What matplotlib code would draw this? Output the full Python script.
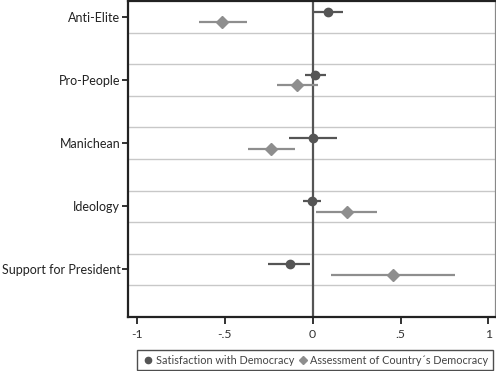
import numpy as np
import matplotlib
matplotlib.use("Agg")
import matplotlib.pyplot as plt
from matplotlib.lines import Line2D

plt.rcParams['font.family'] = ['Lato', 'DejaVu Sans']

# ---------------------------------------------------------------------------
# data
# ---------------------------------------------------------------------------
categories = ["Anti-Elite", "Pro-People", "Manichean", "Ideology", "Support for President"]

sat_est = [0.089, 0.015, 0.000, -0.006, -0.131]
sat_lo = [0.003, -0.044, -0.135, -0.054, -0.253]
sat_hi = [0.171, 0.076, 0.138, 0.045, -0.014]

assess_est = [-0.513, -0.088, -0.236, 0.193, 0.459]
assess_lo = [-0.648, -0.203, -0.368, 0.019, 0.106]
assess_hi = [-0.374, 0.028, -0.103, 0.364, 0.809]

xticks = [-1, -0.5, 0, 0.5, 1]
xticklabels = ["-1", "-.5", "0", ".5", "1"]

dark = "#555555"
light = "#8e8e8e"

fig = plt.figure(figsize=(4.96, 3.71), dpi=100)
ax = fig.add_axes([0.258, 0.146, 0.741, 0.851])

pos = np.arange(1, len(categories) + 1)

# grid lines between / around categories
for g in np.arange(1.25, len(categories) + 0.5, 0.5):
    ax.axhline(g, color="#c8c8c8", lw=1.0, zorder=0)

ax.axvline(0, color=dark, lw=1.6, zorder=1)

sat_est = np.array(sat_est)
assess_est = np.array(assess_est)
ax.errorbar(sat_est, pos - 0.085,
            xerr=[sat_est - np.array(sat_lo), np.array(sat_hi) - sat_est],
            fmt="o", color=dark, ms=6, lw=1.6, capsize=0, zorder=3)
ax.errorbar(assess_est, pos + 0.085,
            xerr=[assess_est - np.array(assess_lo), np.array(assess_hi) - assess_est],
            fmt="D", color=light, ms=6.5, lw=1.6, capsize=0, zorder=3)

ax.set_ylim(len(categories) + 0.75, 0.75)
ax.set_xlim(-1.05, 1.04)
ax.set_yticks(pos)
ax.set_yticklabels(categories, fontsize=9.0, color="#222222")
ax.set_xticks(xticks)
ax.set_xticklabels(xticklabels, fontsize=8.8, color="#333333")

ax.tick_params(axis="y", length=4.3, width=1.3, color="#222222", pad=1.2)
ax.tick_params(axis="x", length=5, width=1.3, color="#222222", pad=4)

for side in ["left", "bottom", "top"]:
    ax.spines[side].set_linewidth(1.6)
    ax.spines[side].set_color("#222222")
ax.spines["right"].set_linewidth(1.6)
ax.spines["right"].set_color("#888888")

handles = [
    Line2D([], [], marker="o", ls="", color=dark, ms=4.5, label="Satisfaction with Democracy"),
    Line2D([], [], marker="D", ls="", color=light, ms=4.5, label="Assessment of Country\u00b4s Democracy"),
]
leg = fig.legend(handles=handles, loc="center", bbox_to_anchor=(315 / 496, 1 - 360 / 371),
                 ncol=2, fontsize=7.8, frameon=True, fancybox=False, borderpad=0.4,
                 handletextpad=0.1, columnspacing=0.2, handlelength=1.2,
                 labelcolor="#444444")
leg.get_frame().set_edgecolor("#222222")
leg.get_frame().set_linewidth(1.0)

fig.savefig("out.png", dpi=100)
